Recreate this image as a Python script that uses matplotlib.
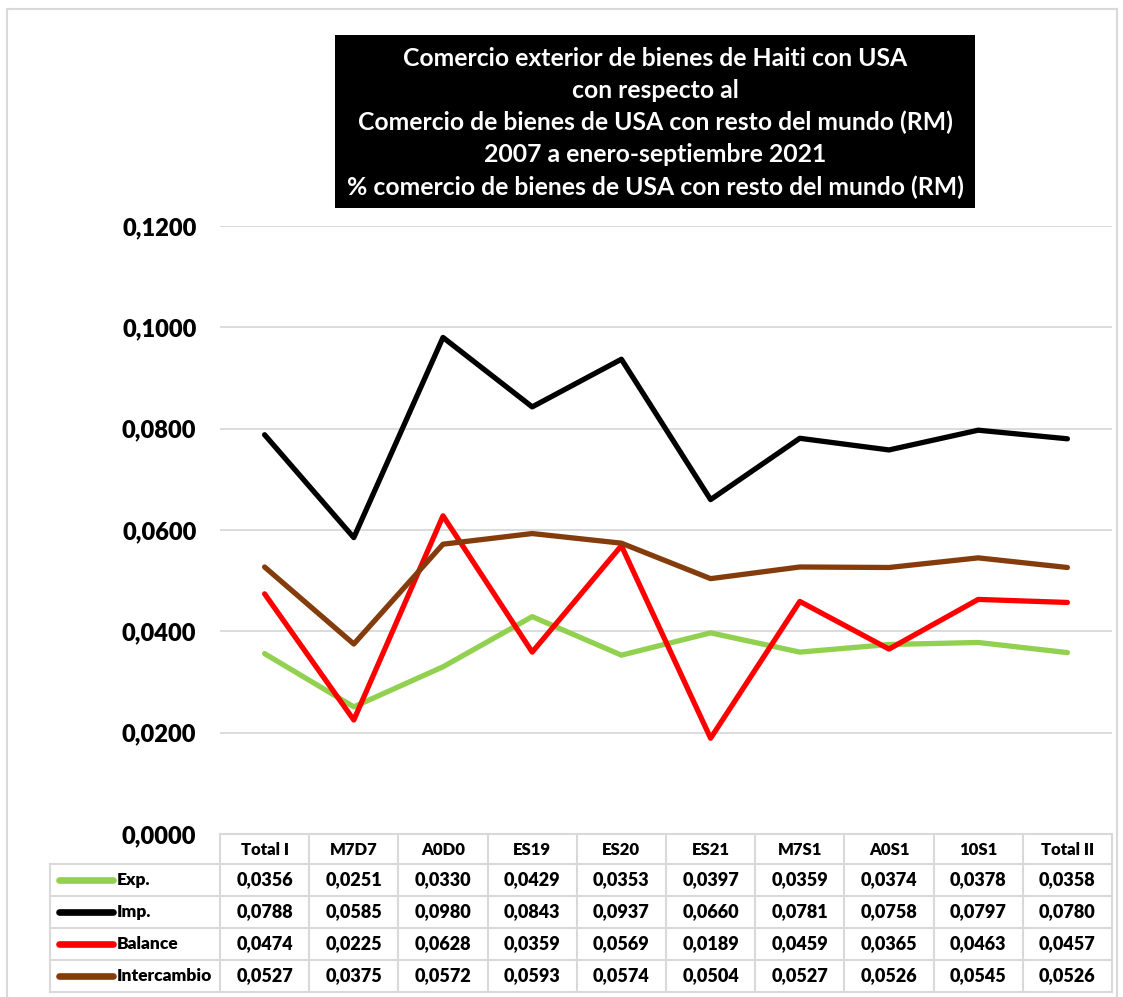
import matplotlib.pyplot as plt
import matplotlib.transforms as mtransforms
from matplotlib.lines import Line2D
from matplotlib.patches import Rectangle
from matplotlib.ticker import FuncFormatter, MultipleLocator

plt.rcParams['font.family'] = ['Lato', 'DejaVu Sans']

categorias = ['Total I', 'M7D7', 'A0D0', 'ES19', 'ES20', 'ES21', 'M7S1', 'A0S1', '10S1', 'Total II']
exp_ = [0.0356, 0.0251, 0.0330, 0.0429, 0.0353, 0.0397, 0.0359, 0.0374, 0.0378, 0.0358]
imp = [0.0788, 0.0585, 0.0980, 0.0843, 0.0937, 0.0660, 0.0781, 0.0758, 0.0797, 0.0780]
balance = [0.0474, 0.0225, 0.0628, 0.0359, 0.0569, 0.0189, 0.0459, 0.0365, 0.0463, 0.0457]
intercambio = [0.0527, 0.0375, 0.0572, 0.0593, 0.0574, 0.0504, 0.0527, 0.0526, 0.0545, 0.0526]

nombres = ['Exp.', 'Imp.', 'Balance', 'Intercambio']
colores = ['#92D050', '#000000', '#FF0000', '#843C0C']
datos = [exp_, imp, balance, intercambio]

titulo = ('Comercio exterior de bienes de Haiti con USA\n'
          'con respecto al\n'
          'Comercio de bienes de USA con resto del mundo (RM)\n'
          '2007 a enero-septiembre 2021\n'
          '% comercio de bienes de USA con resto del mundo (RM)')

W, H = 1123, 997
fig = plt.figure(figsize=(W / 100, H / 100), dpi=100)


def fy(y):
    return 1 - y / H


# marco exterior
borde = '#d9d9d9'
fig.add_artist(Line2D([7 / W, 7 / W], [0, fy(9)], color=borde, lw=1.5))
fig.add_artist(Line2D([7 / W, 1117 / W], [fy(9), fy(9)], color=borde, lw=1.5))
fig.add_artist(Line2D([1117 / W, 1117 / W], [0, fy(9)], color=borde, lw=1.5))

ax = fig.add_axes([220 / W, fy(834), (1112 - 220) / W, (834 - 226) / H])
x = list(range(len(categorias)))
for vals, c in zip(datos, colores):
    ax.plot(x, vals, color=c, lw=3.8, solid_joinstyle='round', solid_capstyle='round')

ax.set_xlim(-0.5, len(categorias) - 0.5)
ax.set_ylim(0, 0.12)
ax.yaxis.set_major_locator(MultipleLocator(0.02))
ax.yaxis.set_major_formatter(FuncFormatter(lambda v, p: f'{v:.4f}'.replace('.', ',')))
ax.set_xticks([])
ax.tick_params(axis='y', length=0, pad=17, labelsize=17)
for lab in ax.get_yticklabels():
    lab.set_fontweight('heavy')
ax.grid(axis='y', color=borde, lw=1.3)
ax.set_axisbelow(True)
for s in ax.spines.values():
    s.set_visible(False)

# titulo
fig.add_artist(Rectangle((335 / W, fy(208)), (975 - 335) / W, (208 - 35) / H,
                         transform=fig.transFigure, facecolor='black', edgecolor='none'))
fig.text(655 / W, fy(123), titulo, ha='center', va='center', color='white',
         fontsize=17.8, fontweight='bold', linespacing=1.47)

# tabla de datos
tr = mtransforms.blended_transform_factory(ax.transData, fig.transFigure)
n = len(categorias)
filas = [834, 864, 896, 928, 960, 992]
lw_t = 1.5
# lineas horizontales
ax.add_artist(Line2D([-0.5, n - 0.5], [fy(834)] * 2, transform=tr, color=borde, lw=lw_t, clip_on=False))
for y in filas[1:]:
    fig.add_artist(Line2D([50 / W, 1112 / W], [fy(y)] * 2, color=borde, lw=lw_t))
# lineas verticales
for i in range(n + 1):
    ax.add_artist(Line2D([i - 0.5] * 2, [fy(834), fy(992)], transform=tr, color=borde, lw=lw_t, clip_on=False))
fig.add_artist(Line2D([50 / W] * 2, [fy(864), fy(992)], color=borde, lw=lw_t))

for i, cat in enumerate(categorias):
    ax.text(i, fy(850), cat, transform=tr, ha='center', va='center', fontsize=12, fontweight='heavy')
for r, (nom, c, vals) in enumerate(zip(nombres, colores, datos)):
    yc = (filas[r + 1] + filas[r + 2]) / 2
    fig.add_artist(Line2D([59 / W, 113 / W], [fy(yc)] * 2, color=c, lw=4.8, solid_capstyle='round'))
    fig.text(117 / W, fy(yc), nom, ha='left', va='center', fontsize=12.5, fontweight='heavy')
    for i, v in enumerate(vals):
        ax.text(i, fy(yc), f'{v:.4f}'.replace('.', ','), transform=tr, ha='center', va='center',
                fontsize=13, fontweight='heavy')

fig.savefig('out.png', dpi=100)
